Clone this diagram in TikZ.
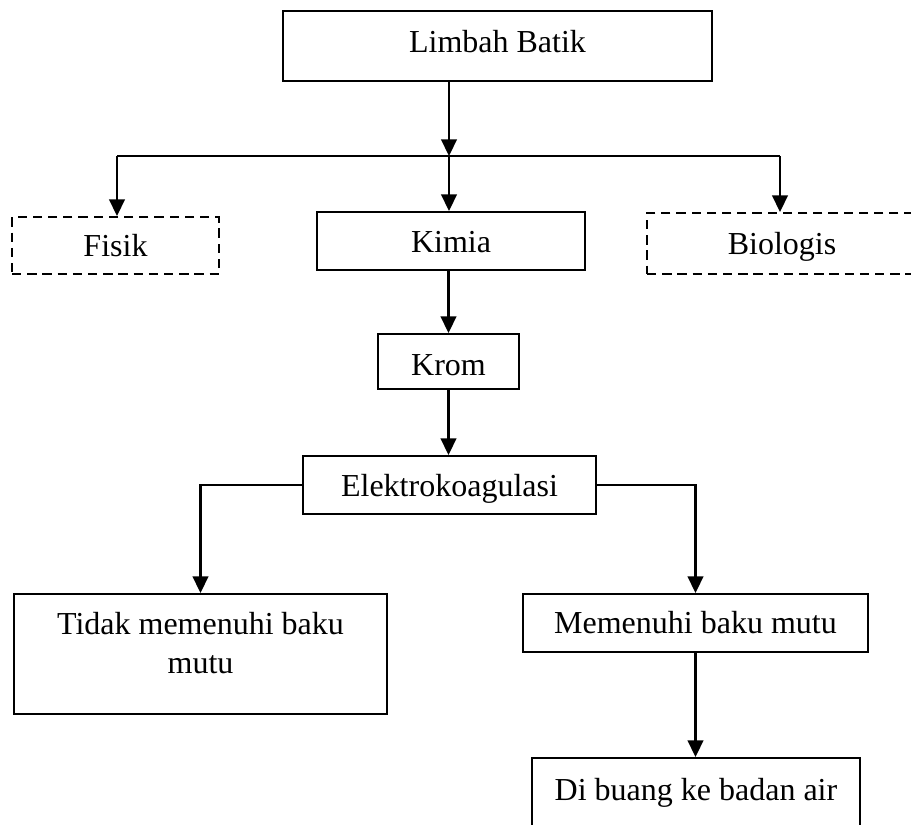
\documentclass[tikz,border=0pt]{standalone}
\usepackage{fontspec}
\setmainfont{Liberation Serif}
\usepackage{tikz}
\usetikzlibrary{arrows.meta}

\begin{document}
\begin{tikzpicture}[x=0.375pt,y=-0.375pt,>={Triangle[length=6.2pt,width=5.8pt]},
    font=\fontsize{12}{14.6}\selectfont,
    box node/.style={rectangle,draw,line width=0.8pt,anchor=north,inner sep=0pt,align=flush center},
    dash node/.style={box node,dash pattern=on 3.5pt off 2.2pt},
    link/.style={line width=0.9pt}]
  \clip (0,0) rectangle (911,824);
  % top level
  \node[box node,text width=160.9pt,text height=15.4pt,text depth=10.9pt] (limbah) at (497.5,10) {Limbah Batik};
  \node[dash node,text width=77.6pt,text height=14.6pt,text depth=6.75pt] (fisik) at (115.5,216) {Fisik};
  \node[box node,text width=100.5pt,text height=15pt,text depth=6.75pt] (kimia) at (451,211) {Kimia};
  \node[dash node,text width=101.25pt,text height=15.4pt,text depth=7.5pt] (bio) at (782,212) {Biologis};
  \node[box node,text width=52.9pt,text height=15.4pt,text depth=5.25pt] (krom) at (448.5,333) {Krom};
  \node[box node,text width=109.9pt,text height=15pt,text depth=6.75pt] (elektro) at (449.5,455) {Elektrokoagulasi};
  % results
  \node[box node,text width=139.9pt,text height=15pt,text depth=30pt] (tidak) at (200.5,593) {Tidak memenuhi baku\\mutu};
  \node[box node,text width=129.4pt,text height=14.6pt,text depth=7.1pt] (memenuhi) at (695.5,593) {Memenuhi baku mutu};
  \node[box node,text width=123pt,text height=15.75pt,text depth=11.6pt] (buang) at (696,757) {Di buang ke badan air};

  \coordinate (split) at (449,156);
  \coordinate (split l) at (117,156);
  \coordinate (split r) at (780,156);

  \draw[link,->] (limbah.south -| split) -- (split);
  \draw[link] (split l) -- (split r);
  \draw[link,->] (split l) -- (split l |- fisik.north);
  \draw[link,->] (split) -- (split |- kimia.north);
  \draw[link,->] (split r) -- (split r |- bio.north);
  \draw[link,->] (krom.north |- kimia.south) -- (krom.north);
  \draw[link,->] (krom.south) -- (krom.south |- elektro.north);
  \draw[link,->] (elektro.west) -| (tidak.north);
  \draw[link,->] (elektro.east) -| (memenuhi.north);
  \draw[link,->] (memenuhi.south) -- (memenuhi.south |- buang.north);
\end{tikzpicture}
\end{document}
